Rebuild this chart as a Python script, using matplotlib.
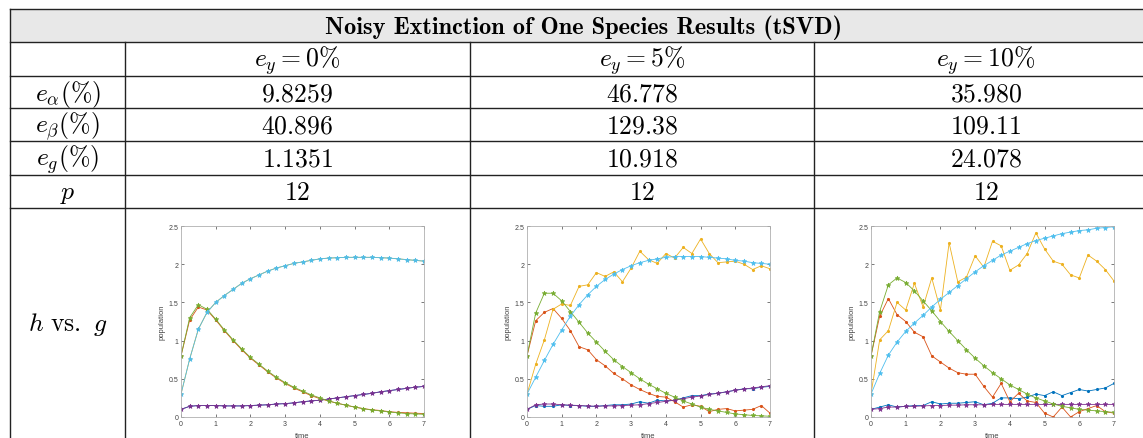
import numpy as np
import matplotlib
matplotlib.use("Agg")
import matplotlib.pyplot as plt

plt.rcParams["mathtext.fontset"] = "cm"

# ---------------------------------------------------------------------------
# table contents
TITLE = "Noisy Extinction of One Species Results (tSVD)"
col_headers = [r"$e_y = 0\%$", r"$e_y = 5\%$", r"$e_y = 10\%$"]
row_labels = [r"$e_\alpha(\%)$", r"$e_\beta(\%)$", r"$e_g(\%)$", r"$p$"]
e_alpha = ["9.8259", "46.778", "35.980"]
e_beta = ["40.896", "129.38", "109.11"]
e_g = ["1.1351", "10.918", "24.078"]
p_vals = ["12", "12", "12"]
plot_row_label = r"$h\ \mathrm{vs.}\ g$"

# ---------------------------------------------------------------------------
# population curves, t = 0..7 in steps of 0.25
t = np.arange(0, 7.01, 0.25)

# e_y = 0%
d0_s1 = [0.10, 0.14, 0.15, 0.15, 0.15, 0.145, 0.145, 0.145, 0.15, 0.155, 0.16, 0.17, 0.175, 0.185, 0.20,
         0.21, 0.22, 0.235, 0.25, 0.265, 0.28, 0.295, 0.31, 0.33, 0.345, 0.36, 0.375, 0.39, 0.40]
d0_s2 = [0.80, 1.27, 1.44, 1.40, 1.27, 1.13, 1.00, 0.88, 0.77, 0.68, 0.59, 0.51, 0.44, 0.38, 0.33,
         0.28, 0.24, 0.21, 0.18, 0.155, 0.13, 0.11, 0.095, 0.085, 0.07, 0.06, 0.055, 0.05, 0.045]
d0_s3 = [0.30, 0.76, 1.15, 1.37, 1.50, 1.59, 1.67, 1.75, 1.81, 1.86, 1.91, 1.95, 1.98, 2.01, 2.03,
         2.05, 2.07, 2.08, 2.085, 2.09, 2.09, 2.09, 2.09, 2.085, 2.08, 2.07, 2.06, 2.05, 2.04]
m0_s1 = [0.10, 0.14, 0.15, 0.15, 0.15, 0.145, 0.145, 0.145, 0.15, 0.155, 0.16, 0.17, 0.175, 0.185, 0.20,
         0.21, 0.22, 0.235, 0.25, 0.265, 0.28, 0.295, 0.31, 0.33, 0.345, 0.36, 0.375, 0.39, 0.40]
m0_s2 = [0.80, 1.30, 1.47, 1.41, 1.28, 1.14, 1.01, 0.89, 0.78, 0.69, 0.60, 0.52, 0.45, 0.39, 0.34,
         0.29, 0.25, 0.21, 0.18, 0.155, 0.13, 0.11, 0.09, 0.08, 0.065, 0.055, 0.045, 0.04, 0.035]
m0_s3 = [0.30, 0.76, 1.15, 1.37, 1.50, 1.59, 1.67, 1.75, 1.81, 1.86, 1.91, 1.95, 1.98, 2.01, 2.03,
         2.05, 2.07, 2.08, 2.085, 2.09, 2.09, 2.09, 2.09, 2.085, 2.08, 2.07, 2.06, 2.05, 2.04]

# e_y = 5%
d5_s1 = [0.10, 0.15, 0.14, 0.14, 0.16, 0.15, 0.15, 0.14, 0.14, 0.15, 0.16, 0.16, 0.17, 0.20, 0.18,
         0.22, 0.21, 0.22, 0.25, 0.28, 0.28, 0.30, 0.31, 0.33, 0.35, 0.37, 0.37, 0.39, 0.40]
d5_s2 = [0.80, 1.26, 1.37, 1.42, 1.29, 1.13, 0.92, 0.88, 0.75, 0.67, 0.57, 0.50, 0.42, 0.36, 0.31,
         0.27, 0.26, 0.20, 0.13, 0.16, 0.14, 0.07, 0.10, 0.11, 0.08, 0.09, 0.10, 0.15, 0.05]
d5_s3 = [0.30, 0.69, 1.01, 1.41, 1.48, 1.46, 1.71, 1.73, 1.89, 1.84, 1.90, 1.77, 1.95, 2.17, 2.06,
         2.01, 2.14, 2.08, 2.22, 2.14, 2.33, 2.14, 2.02, 2.03, 2.04, 2.00, 1.93, 1.98, 1.94]
m5_s1 = [0.10, 0.16, 0.17, 0.17, 0.16, 0.155, 0.15, 0.145, 0.14, 0.145, 0.145, 0.15, 0.155, 0.16, 0.175,
         0.19, 0.205, 0.22, 0.24, 0.26, 0.275, 0.295, 0.31, 0.33, 0.35, 0.365, 0.38, 0.395, 0.41]
m5_s2 = [0.80, 1.36, 1.62, 1.62, 1.52, 1.38, 1.24, 1.10, 0.98, 0.86, 0.75, 0.66, 0.58, 0.50, 0.43,
         0.37, 0.31, 0.26, 0.21, 0.17, 0.13, 0.10, 0.08, 0.06, 0.04, 0.03, 0.02, 0.015, 0.01]
m5_s3 = [0.30, 0.52, 0.74, 0.95, 1.14, 1.32, 1.47, 1.60, 1.71, 1.80, 1.87, 1.93, 1.98, 2.02, 2.05,
         2.07, 2.09, 2.10, 2.10, 2.10, 2.10, 2.09, 2.08, 2.07, 2.05, 2.04, 2.02, 2.01, 2.00]

# e_y = 10%
d10_s1 = [0.10, 0.13, 0.16, 0.13, 0.14, 0.15, 0.15, 0.20, 0.17, 0.18, 0.18, 0.19, 0.20, 0.16, 0.18,
          0.25, 0.25, 0.24, 0.26, 0.30, 0.28, 0.33, 0.28, 0.32, 0.36, 0.34, 0.36, 0.38, 0.44]
d10_s2 = [0.80, 1.32, 1.55, 1.34, 1.25, 1.11, 1.05, 0.80, 0.72, 0.64, 0.58, 0.56, 0.56, 0.40, 0.26,
          0.44, 0.20, 0.31, 0.21, 0.19, 0.05, 0.00, 0.13, 0.00, 0.07, 0.11, 0.15, 0.07, 0.05]
d10_s3 = [0.30, 1.01, 1.13, 1.50, 1.40, 1.75, 1.44, 1.82, 1.40, 2.28, 1.77, 1.83, 2.11, 1.96, 2.30,
          2.24, 1.92, 1.99, 2.14, 2.41, 2.20, 2.04, 2.00, 1.86, 1.82, 2.12, 2.04, 1.93, 1.78]
m10_s1 = [0.10, 0.11, 0.13, 0.13, 0.14, 0.14, 0.145, 0.15, 0.15, 0.155, 0.155, 0.16, 0.16, 0.16, 0.165,
          0.165, 0.165, 0.165, 0.165, 0.165, 0.165, 0.165, 0.165, 0.165, 0.165, 0.165, 0.165, 0.165, 0.165]
m10_s2 = [0.80, 1.38, 1.73, 1.82, 1.76, 1.65, 1.52, 1.39, 1.25, 1.12, 1.00, 0.88, 0.77, 0.67, 0.58,
          0.50, 0.42, 0.36, 0.30, 0.25, 0.21, 0.17, 0.14, 0.12, 0.10, 0.09, 0.08, 0.07, 0.06]
m10_s3 = [0.30, 0.57, 0.81, 0.98, 1.12, 1.23, 1.33, 1.44, 1.54, 1.63, 1.72, 1.81, 1.90, 1.98, 2.05,
          2.12, 2.17, 2.22, 2.27, 2.31, 2.34, 2.37, 2.40, 2.42, 2.44, 2.45, 2.47, 2.48, 2.49]

panels = [
    ((d0_s1, d0_s2, d0_s3), (m0_s1, m0_s2, m0_s3)),
    ((d5_s1, d5_s2, d5_s3), (m5_s1, m5_s2, m5_s3)),
    ((d10_s1, d10_s2, d10_s3), (m10_s1, m10_s2, m10_s3)),
]

# MATLAB default line colours
data_colors = ["#0072BD", "#D95319", "#EDB120"]
model_colors = ["#7E2F8E", "#77AC30", "#4DBEEE"]

# ---------------------------------------------------------------------------
W, H = 1143, 439
fig = plt.figure(figsize=(W / 100, H / 100), dpi=100)
bg = fig.add_axes([0, 0, 1, 1])
bg.set_xlim(0, W)
bg.set_ylim(H, 0)
bg.axis("off")

x_left, x_right = 10, 1158
col_x = [10, 125, 470, 814, 1158]
row_y = [10, 43, 77, 109, 142, 176, 209, H + 5]
lc = "#222222"

# title row shading
bg.fill_between([x_left, x_right], row_y[0], row_y[1], color="#e8e8e8", lw=0)
for y in row_y[:-1]:
    bg.plot([x_left, x_right], [y, y], color=lc, lw=1.0)
bg.plot([x_left, x_left], [row_y[0], H + 5], color=lc, lw=1.0)
for x in col_x[1:-1]:
    bg.plot([x, x], [row_y[1], H + 5], color=lc, lw=1.0)

fs = 18.5
bg.text((x_left + x_right) / 2, (row_y[0] + row_y[1]) / 2 + 1, TITLE,
        ha="center", va="center", fontsize=17.5, family="cmb10")

cells = [col_headers, e_alpha, e_beta, e_g, p_vals]
labels = [""] + row_labels
for r, (lab, vals) in enumerate(zip(labels, cells)):
    yc = (row_y[r + 1] + row_y[r + 2]) / 2 + 1
    if lab:
        bg.text((col_x[0] + col_x[1]) / 2, yc, lab, ha="center", va="center", fontsize=fs)
    for c, v in enumerate(vals):
        txt = v if v.startswith("$") else "$%s$" % v
        bg.text((col_x[c + 1] + col_x[c + 2]) / 2, yc, txt, ha="center", va="center", fontsize=fs)

bg.text((col_x[0] + col_x[1]) / 2, 325, plot_row_label, ha="center", va="center", fontsize=fs)

# ---------------------------------------------------------------------------
# embedded population plots
ax_lefts = [181, 527, 871]
ax_w, ax_top, ax_bot = 243, 227, 418
tick_col = "#444444"
for left, (data, model) in zip(ax_lefts, panels):
    ax = fig.add_axes([left / W, 1 - ax_bot / H, ax_w / W, (ax_bot - ax_top) / H])
    for y, c in zip(data, data_colors):
        ax.plot(t, y, color=c, lw=0.6, marker=".", ms=2.5)
    for y, c in zip(model, model_colors):
        ax.plot(t, y, color=c, lw=0.6, marker="*", ms=3.5, mew=0.5)
    ax.set_xlim(0, 7)
    ax.set_ylim(0, 2.5)
    ax.set_xticks(range(8))
    ax.set_yticks([0, 0.5, 1, 1.5, 2, 2.5])
    ax.set_yticklabels(["0", "0.5", "1", "1.5", "2", "2.5"])
    ax.tick_params(direction="in", length=2, width=0.5, labelsize=5, colors=tick_col,
                   pad=2, top=True, right=True, labeltop=False, labelright=False)
    for s in ax.spines.values():
        s.set_color("#b0b0b0")
        s.set_linewidth(0.6)
    ax.set_xlabel("time", fontsize=5.5, color=tick_col, labelpad=4, family="Liberation Sans")
    ax.set_ylabel("population", fontsize=5.5, color=tick_col, labelpad=2, family="Liberation Sans")
    for lab in ax.get_xticklabels() + ax.get_yticklabels():
        lab.set_family("Liberation Sans")

fig.savefig("out.png", dpi=100)
